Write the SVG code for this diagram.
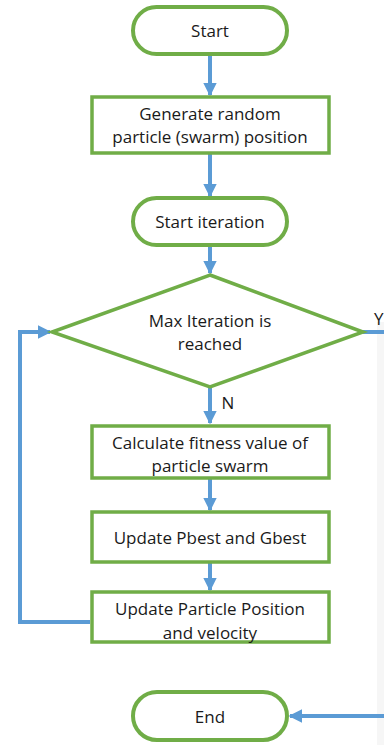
<svg xmlns="http://www.w3.org/2000/svg" width="384" height="745" viewBox="0 0 384 745">
<style>
.t{font-family:"Open Sans","Noto Sans","Liberation Sans",sans-serif;font-size:17px;fill:#1a1a1a;text-anchor:middle;dominant-baseline:central}
.box{fill:#fff;stroke:#70ad47;stroke-width:3.5}
.pill{fill:#fff;stroke:#70ad47;stroke-width:4}
.c{fill:none;stroke:#5b9bd5;stroke-width:4}
</style>
<defs>
<marker id="ah" viewBox="0 0 10 10" refX="9" refY="5" markerWidth="3.4" markerHeight="3.4" orient="auto" markerUnits="strokeWidth">
<path d="M0,0 L10,5 L0,10 z" fill="#5b9bd5"/>
</marker>
</defs>
<rect x="377" y="322" width="7" height="423" fill="#f6f6f6"/>
<g id="connectors">
<line class="c" x1="210" y1="55" x2="210" y2="95" marker-end="url(#ah)"/>
<line class="c" x1="210" y1="153" x2="210" y2="196" marker-end="url(#ah)"/>
<line class="c" x1="210" y1="245" x2="210" y2="273" marker-end="url(#ah)"/>
<line class="c" x1="210" y1="387" x2="210" y2="423" marker-end="url(#ah)"/>
<line class="c" x1="210" y1="478" x2="210" y2="510" marker-end="url(#ah)"/>
<line class="c" x1="210" y1="562" x2="210" y2="590" marker-end="url(#ah)"/>
<polyline class="c" points="90,622 20,622 20,332 50,332" marker-end="url(#ah)"/>
<line class="c" x1="363" y1="332" x2="384" y2="332"/>
<line class="c" x1="384" y1="716" x2="290" y2="716" marker-end="url(#ah)"/>
<text class="t" x="228" y="402">N</text>
<text class="t" x="374" y="318" style="text-anchor:start">Y</text>
</g>
<g id="start">
<rect class="pill" x="133" y="7" width="154" height="47" rx="23.5"/>
<text class="t" x="210" y="30.5">Start</text>
</g>
<g id="generate">
<rect class="box" x="92" y="97" width="237" height="56"/>
<text class="t" x="210" y="113">Generate random</text>
<text class="t" x="210" y="136">particle (swarm) position</text>
</g>
<g id="startiter">
<rect class="pill" x="133" y="198" width="154" height="47" rx="23.5"/>
<text class="t" x="210" y="221">Start iteration</text>
</g>
<g id="decision">
<polygon points="210,275 363,332 210,387 52,332" fill="#fff" stroke="#70ad47" stroke-width="3.5" stroke-linejoin="miter"/>
<text class="t" x="210" y="320">Max Iteration is</text>
<text class="t" x="210" y="343">reached</text>
</g>
<g id="fitness">
<rect class="box" x="92" y="426" width="237" height="52"/>
<text class="t" x="210" y="442">Calculate fitness value of</text>
<text class="t" x="210" y="465">particle swarm</text>
</g>
<g id="pbest">
<rect class="box" x="92" y="512" width="237" height="50"/>
<text class="t" x="210" y="537">Update Pbest and Gbest</text>
</g>
<g id="position">
<rect class="box" x="92" y="592" width="237" height="50"/>
<text class="t" x="210" y="608">Update Particle Position</text>
<text class="t" x="210" y="632">and velocity</text>
</g>
<g id="end">
<rect class="pill" x="133" y="692" width="154" height="48" rx="24"/>
<text class="t" x="210" y="716">End</text>
</g>
</svg>
